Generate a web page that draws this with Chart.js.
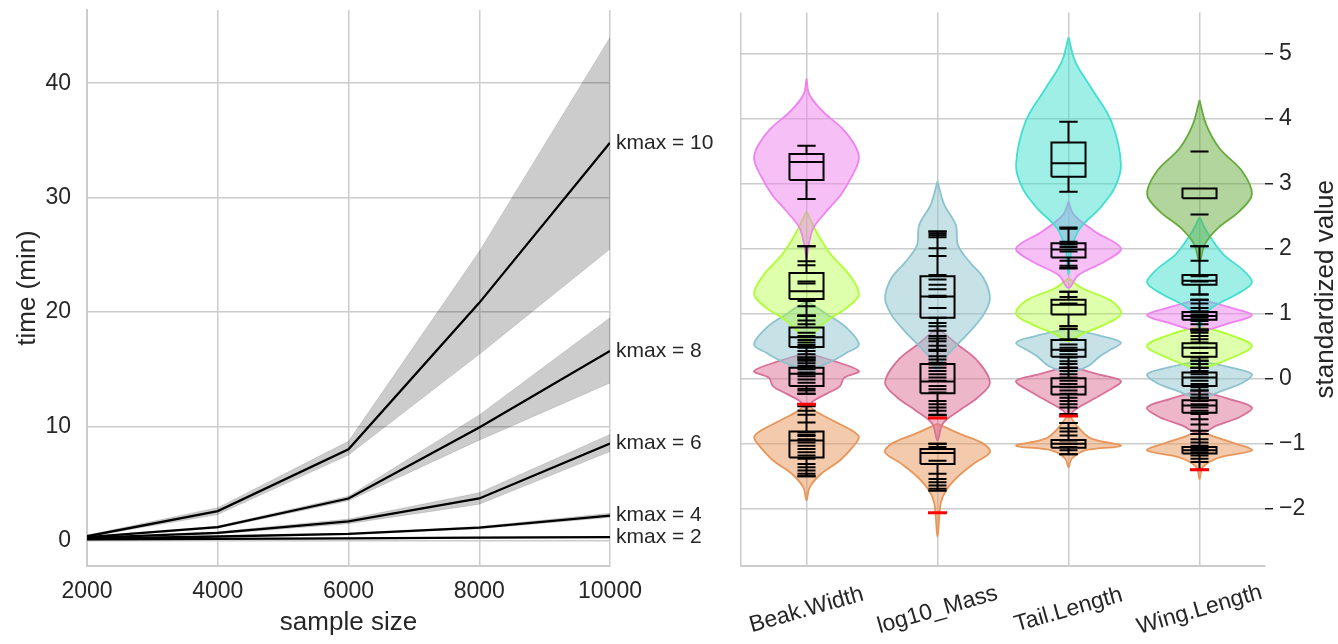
<!DOCTYPE html>
<html>
<head>
<meta charset="utf-8">
<script src="https://cdn.jsdelivr.net/npm/chart.js@4.4.1/dist/chart.umd.min.js"></script>
<style>
  body { margin: 0; background: #fff; width: 1338px; height: 644px; overflow: hidden; position: relative; }
  #timeChart { position: absolute; left: 0; top: 0; }
  #violinChart { position: absolute; left: 720px; top: 0; }
</style>
</head>
<body>
<canvas id="timeChart" width="720" height="644"></canvas>
<canvas id="violinChart" width="618" height="644"></canvas>
<script>
// ---- left panel: run time vs sample size ----
const sampleSizes = [2000, 4000, 6000, 8000, 10000];
const kmaxValues = [2, 4, 6, 8, 10];
const meanTime = [
  [0.12, 0.17, 0.22, 0.28, 0.33],
  [0.18, 0.38, 0.6, 1.15, 2.2],
  [0.25, 0.7, 1.7, 3.7, 8.5],
  [0.32, 1.2, 3.7, 9.9, 16.6],
  [0.4, 2.6, 8.0, 20.8, 34.8]
];
const lowTime = [
  [0.08, 0.13, 0.18, 0.23, 0.27],
  [0.15, 0.33, 0.55, 1.05, 2.05],
  [0.2, 0.6, 1.5, 3.2, 7.8],
  [0.28, 1.1, 3.5, 8.8, 13.8],
  [0.35, 2.3, 7.5, 16.3, 25.5]
];
const highTime = [
  [0.16, 0.21, 0.26, 0.33, 0.39],
  [0.21, 0.43, 0.66, 1.25, 2.4],
  [0.3, 0.8, 1.9, 4.2, 9.3],
  [0.36, 1.3, 3.9, 11.0, 19.5],
  [0.5, 2.9, 8.7, 25.3, 44.0]
];
const timeTicks = [0, 10, 20, 30, 40];

// ---- right panel: standardized values per trait ----
const categories = ['Beak.Width', 'log10_Mass', 'Tail.Length', 'Wing.Length'];
const valueTicks = [-2, -1, 0, 1, 2, 3, 4, 5];

// violin outlines: [value, relative half width]
const beakViolins = [
  { group: 'orange', profile: [[-0.38,0],[-0.49,0.16],[-0.64,0.5],[-0.8,0.88],[-0.9,1],[-1.05,0.88],[-1.26,0.63],[-1.46,0.28],[-1.67,0.06],[-1.87,0]] },
  { group: 'pink', profile: [[0.4,0],[0.28,0.5],[0.12,1],[0.02,0.72],[-0.11,0.64],[-0.23,0.38],[-0.34,0.13],[-0.46,0]] },
  { group: 'blue', profile: [[1.2,0],[1.0,0.38],[0.79,0.76],[0.53,1],[0.4,0.76],[0.28,0.5],[0.17,0.19],[0.07,0]] },
  { group: 'green', profile: [[2.58,0],[2.22,0.22],[1.91,0.47],[1.6,0.82],[1.3,1],[1.09,0.76],[0.89,0.38],[0.69,0.13],[0.48,0]] },
  { group: 'magenta', profile: [[4.62,0],[4.37,0.06],[4.11,0.32],[3.85,0.69],[3.6,0.92],[3.39,1],[3.14,0.88],[2.84,0.66],[2.58,0.38],[2.32,0.13],[2.01,0.03],[1.84,0]] }
];
const massViolins = [
  { group: 'orange', profile: [[-0.69,0],[-0.85,0.44],[-1.0,0.88],[-1.13,1],[-1.3,0.7],[-1.51,0.38],[-1.72,0.16],[-1.92,0.06],[-2.43,0]] },
  { group: 'pink', profile: [[0.79,0],[0.53,0.38],[0.28,0.76],[-0.06,1],[-0.29,0.76],[-0.49,0.41],[-0.69,0.1],[-0.95,0]] },
  { group: 'blue', profile: [[3.04,0],[2.68,0.13],[2.37,0.35],[2.06,0.39],[1.81,0.6],[1.55,0.88],[1.24,1],[0.99,0.88],[0.74,0.63],[0.48,0.32],[0.28,0.1],[0.12,0]] }
];
const tailViolins = [
  { group: 'orange', profile: [[-0.54,0],[-0.75,0.19],[-0.92,0.44],[-1.03,1],[-1.1,0.32],[-1.23,0.06],[-1.36,0]] },
  { group: 'pink', profile: [[0.2,0],[0.07,0.57],[-0.03,1],[-0.18,0.76],[-0.34,0.41],[-0.49,0.1],[-0.59,0]] },
  { group: 'blue', profile: [[0.77,0],[0.66,0.63],[0.56,1],[0.43,0.76],[0.33,0.57],[0.2,0.38],[0.1,0]] },
  { group: 'green', profile: [[1.55,0],[1.4,0.25],[1.2,0.82],[1.0,1],[0.84,0.7],[0.69,0.25],[0.58,0]] },
  { group: 'magenta', profile: [[2.73,0],[2.53,0.1],[2.27,0.5],[2.01,1],[1.81,0.7],[1.6,0.19],[1.4,0]] },
  { group: 'cyan', profile: [[5.26,0],[4.88,0.13],[4.47,0.44],[3.96,0.82],[3.3,1],[2.94,0.88],[2.63,0.6],[2.32,0.22],[2.01,0.06],[1.6,0]] }
];
const wingViolins = [
  { group: 'orange', profile: [[-0.8,0],[-0.9,0.32],[-1.0,0.7],[-1.1,1],[-1.21,0.38],[-1.36,0.06],[-1.54,0]] },
  { group: 'pink', profile: [[-0.18,0],[-0.31,0.57],[-0.44,1],[-0.59,0.76],[-0.72,0.32],[-0.85,0]] },
  { group: 'blue', profile: [[0.28,0],[0.17,0.63],[0.07,1],[-0.06,0.82],[-0.18,0.44],[-0.29,0]] },
  { group: 'green', profile: [[0.81,0],[0.68,0.57],[0.51,1],[0.33,0.63],[0.17,0]] },
  { group: 'magenta', profile: [[1.23,0],[1.09,0.63],[0.98,1],[0.86,0.57],[0.74,0]] },
  { group: 'cyan', profile: [[2.49,0],[2.24,0.16],[1.93,0.44],[1.66,0.85],[1.48,1],[1.3,0.7],[1.14,0.32],[0.99,0.1],[0.79,0]] },
  { group: 'darkgreen', profile: [[4.29,0],[3.91,0.13],[3.55,0.38],[3.19,0.82],[2.84,1],[2.58,0.76],[2.32,0.35],[2.07,0.1],[1.81,0]] }
];

// box stats: [low whisker, q1, median, q3, high whisker]
const beakBoxes = [[2.77,3.06,3.34,3.46,3.59],[0.98,1.23,1.35,1.63,2.04],[0.30,0.49,0.64,0.79,0.97],[-0.23,-0.11,0.08,0.17,0.33],[-1.50,-1.21,-0.95,-0.81,-0.42]];
const massBoxes = [[0.45,0.94,1.27,1.58,2.27],[-0.56,-0.22,-0.04,0.23,0.62],[-1.72,-1.31,-1.14,-1.08,-1.0]];
const tailBoxes = [[2.88,3.11,3.32,3.64,3.96],[1.70,1.87,1.99,2.09,2.33],[0.81,0.99,1.14,1.22,1.34],[0.17,0.34,0.45,0.60,0.77],[-0.54,-0.24,-0.12,0.01,0.17],[-1.16,-1.06,-1.0,-0.94,-0.68]];
const wingBoxes = [[2.78,2.78,2.93,2.93,2.93],[1.30,1.45,1.51,1.60,2.04],[0.74,0.91,0.97,1.03,1.22],[0.17,0.34,0.48,0.55,0.76],[-0.29,-0.11,0.02,0.10,0.28],[-0.85,-0.52,-0.41,-0.33,-0.18],[-1.40,-1.15,-1.10,-1.05,-0.80]];

// individual observations (dash markers)
const beakPoints = [2.04,1.81,1.75,1.50,1.47,1.20,1.12,0.97,0.90,0.84,0.71,0.66,0.60,0.56,0.52,0.48,0.43,0.38,0.33,0.28,0.24,0.20,0.15,0.10,0.07,0.04,-0.01,-0.06,-0.11,-0.15,-0.18,-0.23,-0.49,-0.55,-0.67,-0.82,-0.86,-0.88,-0.93,-0.98,-1.03,-1.08,-1.13,-1.18,-1.23,-1.31,-1.36,-1.41,-1.46,-1.50];
const massPoints = [2.27,2.24,2.21,2.18,2.01,1.89,1.60,1.53,1.45,1.38,1.28,1.26,1.09,0.94,0.86,0.81,0.74,0.66,0.58,0.51,0.43,0.35,0.30,0.25,0.22,0.17,0.12,0.07,0.02,-0.03,-0.11,-0.16,-0.21,-0.34,-0.39,-0.44,-0.49,-0.55,-1.0,-1.05,-1.26,-1.46,-1.54,-1.59,-1.64,-1.69];
const tailPoints = [2.31,2.11,2.07,2.03,1.96,1.82,1.74,1.71,1.34,1.26,1.16,0.81,0.61,0.53,0.48,0.43,0.38,0.33,0.27,0.23,0.17,0.12,0.07,0.02,-0.03,-0.08,-0.13,-0.18,-0.23,-0.29,-0.34,-0.39,-0.44,-0.68,-0.76,-0.81,-0.87,-0.95,-1.0,-1.05,-1.1,-1.16];
const wingPoints = [3.50,2.53,2.04,1.82,1.58,1.50,1.30,1.22,1.16,1.09,1.04,0.99,0.94,0.89,0.84,0.76,0.71,0.66,0.61,0.56,0.48,0.40,0.33,0.28,0.23,0.17,0.12,0.07,0.02,-0.03,-0.08,-0.13,-0.18,-0.24,-0.29,-0.34,-0.39,-0.44,-0.49,-0.54,-0.62,-0.70,-0.93,-0.98,-1.03,-1.08,-1.13,-1.18,-1.23,-1.28];
// highlighted observations: [category index, value]
const redPoints = [[0,-0.39],[1,-0.60],[1,-2.06],[2,-0.57],[3,-1.40]];

// ---- styles ----
const FONT = '"Liberation Sans", Arial, sans-serif';
const TEXT = '#262626';
const GRID = '#cccccc';
const groupColors = {
  orange:    ['#e8965a', 'rgba(232,150,90,0.5)'],
  pink:      ['#d9709a', 'rgba(219,112,147,0.5)'],
  blue:      ['#8cc3ce', 'rgba(141,197,207,0.5)'],
  green:     ['#adff2f', 'rgba(173,255,47,0.4)'],
  magenta:   ['#ee82ee', 'rgba(238,130,238,0.5)'],
  cyan:      ['#40e0d0', 'rgba(64,224,208,0.5)'],
  darkgreen: ['#66ab3c', 'rgba(100,172,58,0.5)']
};
const VIOLIN_HALF = 0.4, BOX_HALF = 0.13, CAP_HALF = 0.07;

// drop the extra room Chart.js keeps for the end tick labels
const noEdgePad = s => { s.paddingTop = 0; s.paddingBottom = 0; s.paddingLeft = 0; s.paddingRight = 0; };

// ================= left chart =================
const toXY = arr => arr.map((v, i) => ({ x: sampleSizes[i], y: v }));
const timeDatasets = [];
kmaxValues.forEach((k, i) => {
  timeDatasets.push({ label: 'kmax ' + k, data: toXY(meanTime[i]), borderColor: '#000', borderWidth: 2.3,
    pointRadius: 0, fill: false, order: 0 });
});
kmaxValues.forEach((k, i) => {
  timeDatasets.push({ label: 'upper ' + k, data: toXY(highTime[i]), borderColor: 'rgba(0,0,0,0.12)', borderWidth: 1,
    backgroundColor: 'rgba(0,0,0,0.2)', pointRadius: 0, fill: '+1', order: 1 });
  timeDatasets.push({ label: 'lower ' + k, data: toXY(lowTime[i]), borderColor: 'rgba(0,0,0,0.12)', borderWidth: 1,
    pointRadius: 0, fill: false, order: 1 });
});

const kmaxLabels = {
  id: 'kmaxLabels',
  afterDraw(chart) {
    const { ctx, scales: { x, y } } = chart;
    ctx.save();
    ctx.font = '21px ' + FONT;
    ctx.fillStyle = TEXT;
    ctx.textBaseline = 'middle';
    kmaxValues.forEach((k, i) => {
      const last = meanTime[i][meanTime[i].length - 1];
      ctx.fillText('kmax = ' + k, x.getPixelForValue(sampleSizes[sampleSizes.length - 1]) + 6, y.getPixelForValue(last));
    });
    ctx.restore();
  }
};

new Chart(document.getElementById('timeChart'), {
  type: 'line',
  data: { datasets: timeDatasets },
  options: {
    responsive: false, animation: false,
    layout: { padding: { top: 10, right: 110, left: 0, bottom: 0 } },
    plugins: { legend: { display: false }, tooltip: { enabled: false } },
    scales: {
      x: {
        type: 'linear', min: 2000, max: 10000,
        afterBuildTicks: s => { s.ticks = sampleSizes.map(v => ({ value: v })); },
        afterFit: s => { s.height = 78; noEdgePad(s); },
        grid: { color: GRID, lineWidth: 1.5, drawTicks: false },
        border: { display: true, color: GRID, width: 2 },
        ticks: { font: { size: 23, family: FONT }, color: TEXT, padding: 12, maxRotation: 0,
          callback: v => String(v) },
        title: { display: true, text: 'sample size', font: { size: 26, family: FONT }, color: TEXT, padding: { top: 0, bottom: 6 } }
      },
      y: {
        min: -2.2, max: 46.4,
        afterBuildTicks: s => { s.ticks = timeTicks.map(v => ({ value: v })); },
        afterFit: s => { s.width = 87; noEdgePad(s); },
        grid: { color: GRID, lineWidth: 1.5, drawTicks: false },
        border: { display: true, color: GRID, width: 2 },
        ticks: { font: { size: 23, family: FONT }, color: TEXT, padding: 16 },
        title: { display: true, text: 'time (min)', font: { size: 26, family: FONT }, color: TEXT, padding: { top: 12, bottom: 0 } }
      }
    }
  },
  plugins: [kmaxLabels]
});

// ================= right chart =================
function violinOutline(cat, profile) {
  const right = profile.map(([v, w]) => ({ x: cat + w * VIOLIN_HALF, y: v }));
  const left = profile.slice().reverse().map(([v, w]) => ({ x: cat - w * VIOLIN_HALF, y: v }));
  return right.concat(left.slice(1));
}
function boxOutline(cat, [lo, q1, med, q3, hi]) {
  const gap = { x: NaN, y: NaN };
  return [
    { x: cat - BOX_HALF, y: q1 }, { x: cat + BOX_HALF, y: q1 }, { x: cat + BOX_HALF, y: q3 },
    { x: cat - BOX_HALF, y: q3 }, { x: cat - BOX_HALF, y: q1 }, gap,
    { x: cat - BOX_HALF, y: med }, { x: cat + BOX_HALF, y: med }, gap,
    { x: cat, y: q3 }, { x: cat, y: hi }, gap,
    { x: cat - CAP_HALF, y: hi }, { x: cat + CAP_HALF, y: hi }, gap,
    { x: cat, y: q1 }, { x: cat, y: lo }, gap,
    { x: cat - CAP_HALF, y: lo }, { x: cat + CAP_HALF, y: lo }
  ];
}

const violinsByCat = [beakViolins, massViolins, tailViolins, wingViolins];
const boxesByCat = [beakBoxes, massBoxes, tailBoxes, wingBoxes];
const pointsByCat = [beakPoints, massPoints, tailPoints, wingPoints];

const violinDatasets = [];
let drawIdx = 0;
violinsByCat.forEach((list, cat) => {
  list.forEach(v => {
    const [edge, fillCol] = groupColors[v.group];
    violinDatasets.push({
      data: violinOutline(cat, v.profile), showLine: true, fill: 'shape', tension: 0.35,
      borderColor: edge, backgroundColor: fillCol, borderWidth: 1.8, pointRadius: 0,
      order: 100 - drawIdx++
    });
  });
});
boxesByCat.forEach((list, cat) => {
  list.forEach(stats => {
    violinDatasets.push({
      data: boxOutline(cat, stats), showLine: true, fill: false, tension: 0, spanGaps: false,
      borderColor: '#000', borderWidth: 2, pointRadius: 0, order: 3
    });
  });
});
pointsByCat.forEach((list, cat) => {
  violinDatasets.push({
    data: list.map(v => ({ x: cat, y: v })), showLine: false, pointStyle: 'line',
    pointRadius: 9, pointBorderWidth: 2, pointBorderColor: '#000', borderColor: '#000', order: 2
  });
});
violinDatasets.push({
  data: redPoints.map(([c, v]) => ({ x: c, y: v })), showLine: false, pointStyle: 'line',
  pointRadius: 9.5, pointBorderWidth: 3, pointBorderColor: '#ff0000', borderColor: '#ff0000', order: 1
});

const violinText = {
  id: 'violinText',
  afterDraw(chart) {
    const { ctx, scales: { x }, chartArea } = chart;
    ctx.save();
    ctx.fillStyle = TEXT;
    ctx.font = '23px ' + FONT;
    ctx.textAlign = 'center';
    ctx.textBaseline = 'middle';
    categories.forEach((name, i) => {
      ctx.save();
      ctx.translate(x.getPixelForValue(i), chartArea.bottom + 44);
      ctx.rotate(-16 * Math.PI / 180);
      ctx.fillText(name, 0, 0);
      ctx.restore();
    });
    ctx.font = '26px ' + FONT;
    ctx.translate(chart.width - 12, (chartArea.top + chartArea.bottom) / 2);
    ctx.rotate(-Math.PI / 2);
    ctx.fillText('standardized value', 0, 0);
    ctx.restore();
  }
};

new Chart(document.getElementById('violinChart'), {
  type: 'scatter',
  data: { datasets: violinDatasets },
  options: {
    responsive: false, animation: false,
    layout: { padding: { top: 10, right: 0, left: 21, bottom: 0 } },
    plugins: { legend: { display: false }, tooltip: { enabled: false } },
    scales: {
      x: {
        type: 'linear', min: -0.5, max: 3.5,
        afterBuildTicks: s => { s.ticks = [-0.5, 0, 1, 2, 3].map(v => ({ value: v })); },
        afterFit: s => { s.height = 78; noEdgePad(s); },
        grid: { color: GRID, lineWidth: 1.5, drawTicks: false },
        border: { display: true, color: GRID, width: 2 },
        ticks: { display: false }
      },
      y: {
        position: 'right', min: -2.88, max: 5.64,
        afterBuildTicks: s => { s.ticks = valueTicks.map(v => ({ value: v })); },
        afterFit: s => { s.width = 73; noEdgePad(s); },
        grid: { color: GRID, lineWidth: 1.5, drawTicks: true, tickLength: 8, tickColor: TEXT, tickWidth: 1.5 },
        border: { display: false },
        ticks: { font: { size: 23, family: FONT }, color: TEXT, padding: 6,
          callback: v => (v < 0 ? '\u2212' + Math.abs(v) : String(v)) }
      }
    }
  },
  plugins: [violinText]
});
</script>
</body>
</html>
